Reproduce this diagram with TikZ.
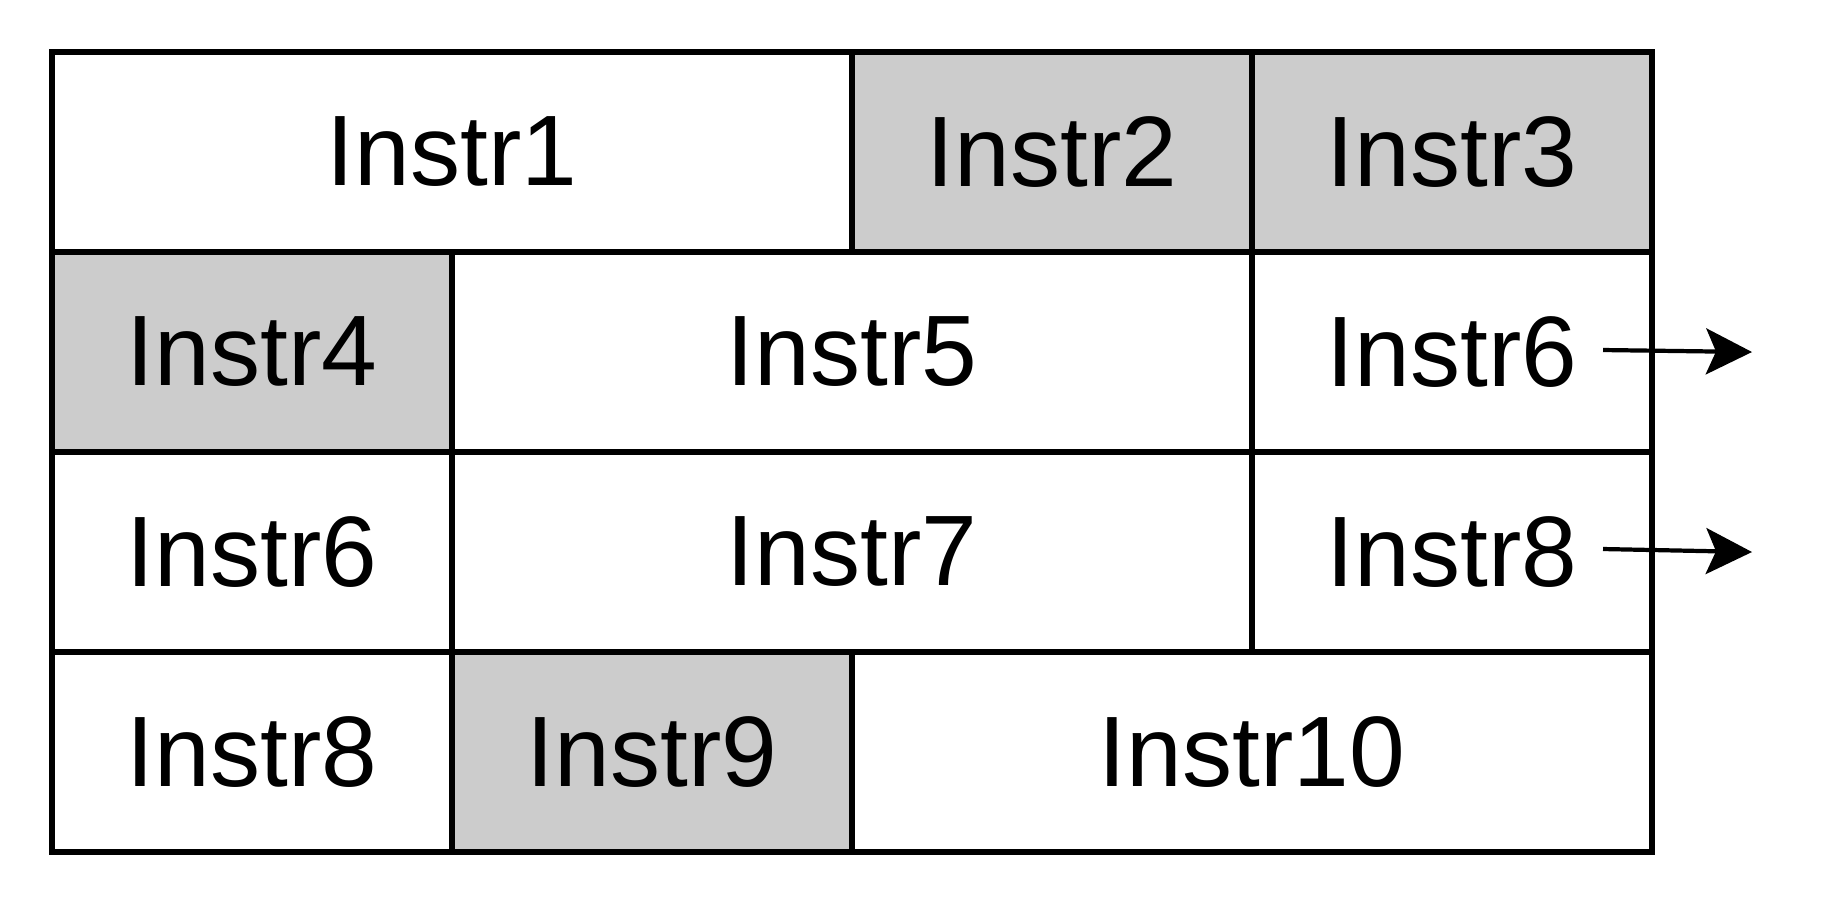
\documentclass[tikz,border=0pt]{standalone}
\usepackage{fontspec}
\setmainfont{Liberation Sans}
\usetikzlibrary{arrows.meta}
\definecolor{cellgray}{HTML}{CCCCCC}
\begin{document}
\begin{tikzpicture}
\useasboundingbox (0,0) rectangle (18.45,-9.05);
\tikzset{
  cell/.style={draw=black, line width=1.6pt, inner sep=0pt, outer sep=0pt,
    minimum height=2cm, font=\fontsize{28.5pt}{34pt}\selectfont, text=black},
  w1/.style={minimum width=4cm},
  w2/.style={minimum width=8cm},
  shaded/.style={fill=cellgray},
  plain/.style={fill=white},
  flow/.style={line width=1.2pt, -{Stealth[length=0.46cm,width=0.46cm,inset=0.1cm]}}
}
% row 1
\node[cell,w2,plain]  (r1a) at (4.52,-1.52) {Instr1};
\node[cell,w1,shaded] (r1b) at (10.52,-1.52) {Instr2};
\node[cell,w1,shaded] (r1c) at (14.52,-1.52) {Instr3};
% row 2
\node[cell,w1,shaded] (r2a) at (2.52,-3.52) {Instr4};
\node[cell,w2,plain]  (r2b) at (8.52,-3.52) {Instr5};
\node[cell,w1,plain]  (r2c) at (14.52,-3.52) {Instr6};
% row 3
\node[cell,w1,plain]  (r3a) at (2.52,-5.52) {Instr6};
\node[cell,w2,plain]  (r3b) at (8.52,-5.52) {Instr7};
\node[cell,w1,plain]  (r3c) at (14.52,-5.52) {Instr8};
% row 4
\node[cell,w1,plain]  (r4a) at (2.52,-7.52) {Instr8};
\node[cell,w1,shaded] (r4b) at (6.52,-7.52) {Instr9};
\node[cell,w2,plain]  (r4c) at (12.52,-7.52) {Instr10};
% arrows
\coordinate (s1) at (16.03,-3.50);
\coordinate (e1) at (17.52,-3.52);
\coordinate (s2) at (16.03,-5.49);
\coordinate (e2) at (17.52,-5.52);
\draw[flow] (s1) -- (e1);
\draw[flow] (s2) -- (e2);
\end{tikzpicture}
\end{document}
